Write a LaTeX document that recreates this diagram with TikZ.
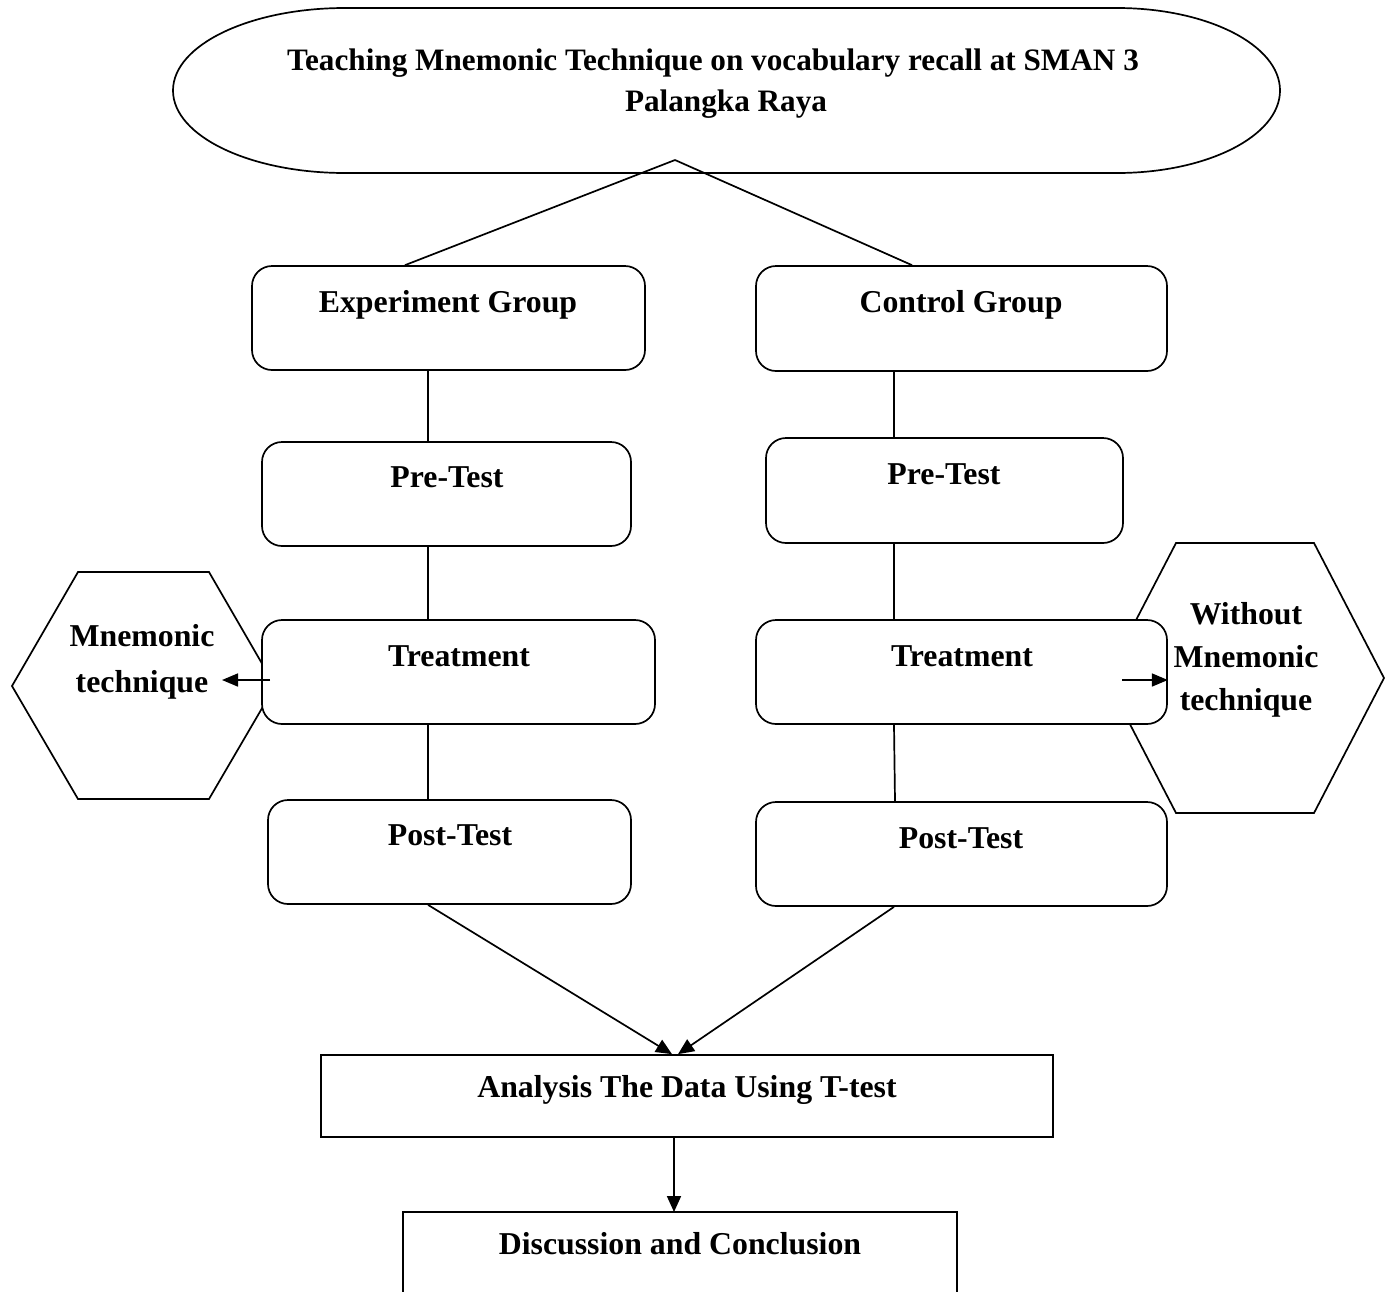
\documentclass[tikz,border=0pt]{standalone}
\usepackage{fontspec}
\setmainfont{Liberation Serif}
\usetikzlibrary{arrows.meta,calc}
\begin{document}
\begin{tikzpicture}[x=1pt,y=-1pt,
  ln/.style={line width=1.7pt},
  rbox/.style={draw,line width=1.7pt,rounded corners=20pt,fill=white,inner sep=0pt},
  sbox/.style={draw,line width=1.7pt,fill=white,inner sep=0pt},
  txt/.style={font=\fontsize{31.8}{44}\selectfont\bfseries,anchor=base,align=center,inner sep=0pt},
  ttl/.style={font=\fontsize{31.2}{44}\selectfont\bfseries,anchor=base,align=center,inner sep=0pt},
  arr/.style={line width=1.7pt,-{Triangle[length=16pt,width=14pt]}},
  sarr/.style={line width=1.7pt,-{Triangle[length=16pt,width=13pt]}}]
\useasboundingbox (0,0) rectangle (1392,1291);
% hexagons (behind boxes)
\draw[ln] (12,686) -- (78,572) -- (209,572) -- (275,686) -- (209,799) -- (78,799) -- cycle;
\draw[ln] (1106,678) -- (1176,543) -- (1314,543) -- (1384,678) -- (1314,813) -- (1176,813) -- cycle;
% top shape
\draw[ln] (345,8) -- (1117,8) arc[start angle=90,end angle=-90,x radius=163,y radius=-82.5]
  -- (345,173) arc[start angle=270,end angle=90,x radius=172,y radius=-82.5] -- cycle;
\node[ttl] (title1) at (713,70) {Teaching Mnemonic Technique on vocabulary recall at SMAN 3};
\node[ttl] (title2) at (726,111) {Palangka Raya};
\coordinate (apex) at (675,160);
% boxes
\node[rbox,minimum width=393pt,minimum height=104pt] (eg) at (448.5,318) {};
\node[rbox,minimum width=411pt,minimum height=105pt] (cg) at (961.5,318.5) {};
\node[rbox,minimum width=369pt,minimum height=104pt] (pre1) at (446.5,494) {};
\node[rbox,minimum width=357pt,minimum height=105pt] (pre2) at (944.5,490.5) {};
\node[rbox,minimum width=393pt,minimum height=104pt] (tr1) at (458.5,672) {};
\node[rbox,minimum width=411pt,minimum height=104pt] (tr2) at (961.5,672) {};
\node[rbox,minimum width=363pt,minimum height=104pt] (post1) at (449.5,852) {};
\node[rbox,minimum width=411pt,minimum height=104pt] (post2) at (961.5,854) {};
\node[sbox,minimum width=732pt,minimum height=82pt] (an) at (687,1096) {};
\coordinate (dtl) at (403,1212);
\coordinate (dtr) at (957,1212);
\draw[ln] (403,1300) -- (dtl) -- (dtr) -- (957,1300);
% texts
\node[txt] at (448,312) {Experiment Group};
\node[txt] at (961,312) {Control Group};
\node[txt] at (447,487) {Pre-Test};
\node[txt] at (944,484) {Pre-Test};
\node[txt] at (459,666) {Treatment};
\node[txt] at (962,666) {Treatment};
\node[txt] at (450,845) {Post-Test};
\node[txt] at (961,848) {Post-Test};
\node[txt,font=\fontsize{31.8}{46}\selectfont\bfseries] (mt) at (142,692) {Mnemonic\\technique};
\node[txt,font=\fontsize{31.8}{43}\selectfont\bfseries] (wmt) at (1246,710) {Without\\Mnemonic\\technique};
\node[txt] at (687,1097) {Analysis The Data Using T-test};
\node[txt] (dis) at (680,1254) {Discussion and Conclusion};
% connectors
\draw[ln] (apex) -- (eg.north -| 405,0);
\draw[ln] (apex) -- (cg.north -| 912,0);
\draw[ln] (eg.south -| 428,0) -- (pre1.north -| 428,0);
\draw[ln] (pre1.south -| 428,0) -- (tr1.north -| 428,0);
\draw[ln] (tr1.south -| 428,0) -- (post1.north -| 428,0);
\draw[ln] (cg.south -| 894,0) -- (pre2.north -| 894,0);
\draw[ln] (pre2.south -| 894,0) -- (tr2.north -| 894,0);
\draw[ln] (tr2.south -| 894,0) -- (post2.north -| 895,0);
\draw[sarr] (270,680) -- (222,680);
\draw[sarr] (1122,680) -- (tr2.east |- 0,680);
\draw[arr] (post1.south -| 428,0) -- (an.north -| 672,0);
\draw[arr] (post2.south -| 894,0) -- (an.north -| 678,0);
\draw[arr] (an.south -| 674,0) -- (dtl -| 674,0);
\end{tikzpicture}
\end{document}
